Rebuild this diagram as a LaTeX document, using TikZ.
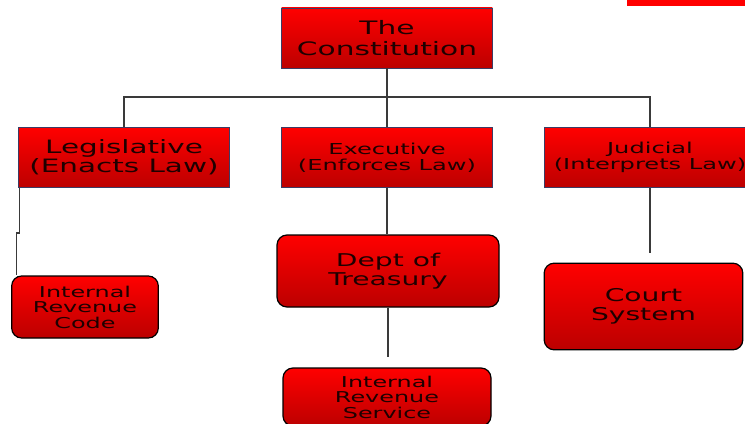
\documentclass[tikz,border=0pt]{standalone}
\usepackage{fontspec}
\usepackage{xcolor}
\usepackage{tikz}
\newfontfamily\boxfont{DejaVu Sans}[FakeStretch=1.6]
\definecolor{BoxTop}    {HTML}{FF0000}
\definecolor{BoxBottom} {HTML}{BC0000}
\definecolor{BoxText}   {HTML}{1E0000}
\definecolor{EdgeBlue}  {HTML}{3C3C64}
\definecolor{WireGrey}  {HTML}{3A3A3A}

\begin{document}
\begin{tikzpicture}[x=0.75pt, y=-0.75pt,
  branch/.style={draw=EdgeBlue, line width=0.6pt, top color=BoxTop, bottom color=BoxBottom,
                 text=BoxText, align=center, inner sep=0pt,
                 minimum width=158pt, minimum height=45pt},
  office/.style={draw=black, line width=0.9pt, rounded corners=7.5pt,
                 top color=BoxTop, bottom color=BoxBottom,
                 text=BoxText, align=center, inner sep=0pt},
  wire/.style={draw=WireGrey, line width=1.1pt}]

  \useasboundingbox (0,0) rectangle (745,424);
  \fill[BoxTop] (627,0) rectangle (745,6);

  % ===== TOP =====
  \node[branch, font=\boxfont\fontsize{13.9}{15.75}\selectfont] (con) at (387,38)
        {The\\Constitution};
  \coordinate (bus) at (0,97);

  % ===== THREE BRANCHES =====
  \node[branch, font=\boxfont\fontsize{13.8}{14.2}\selectfont] (leg) at (124,157.5)
        {Legislative\\(Enacts Law)};
  \node[branch, font=\boxfont\fontsize{11.3}{12}\selectfont] (exe) at (387,157.5)
        {Executive\\(Enforces Law)};
  \node[branch, font=\boxfont\fontsize{11.3}{12}\selectfont] (jud) at (650,157.5)
        {Judicial\\(Interprets Law)};

  % ===== OFFICES =====
  \node[office, minimum width=110pt, minimum height=46.5pt,
        font=\boxfont\fontsize{11.2}{11.6}\selectfont] (irc) at (85,307)
        {Internal\\Revenue\\Code};
  \node[office, minimum width=166.5pt, minimum height=54pt,
        font=\boxfont\fontsize{13.2}{14.3}\selectfont] (tre) at (388,271)
        {Dept of\\Treasury};
  \node[office, minimum width=156pt, minimum height=43.5pt,
        font=\boxfont\fontsize{11.2}{11.6}\selectfont] (irs) at (387,397)
        {Internal\\Revenue\\Service};
  \node[office, minimum width=149pt, minimum height=65pt,
        font=\boxfont\fontsize{13.2}{14.3}\selectfont] (crt) at (643.5,306.5)
        {Court\\System};

  % ===== CONNECTORS =====
  \draw[wire] (con.south) -- (exe.north);
  \draw[wire] (leg.north) |- (jud.north |- bus) -- (jud.north);
  \draw[wire] ([xshift=1pt]leg.south west) -- ++(0,45) -| ([xshift=4pt]irc.north west);
  \draw[wire] (exe.south) -- (exe.south |- tre.north);
  \draw[wire] (tre.south) -- ([yshift=7.5pt]tre.south |- irs.north);
  \draw[wire] (jud.south) -- ([yshift=7.5pt]jud.south |- crt.north);

\end{tikzpicture}
\end{document}
